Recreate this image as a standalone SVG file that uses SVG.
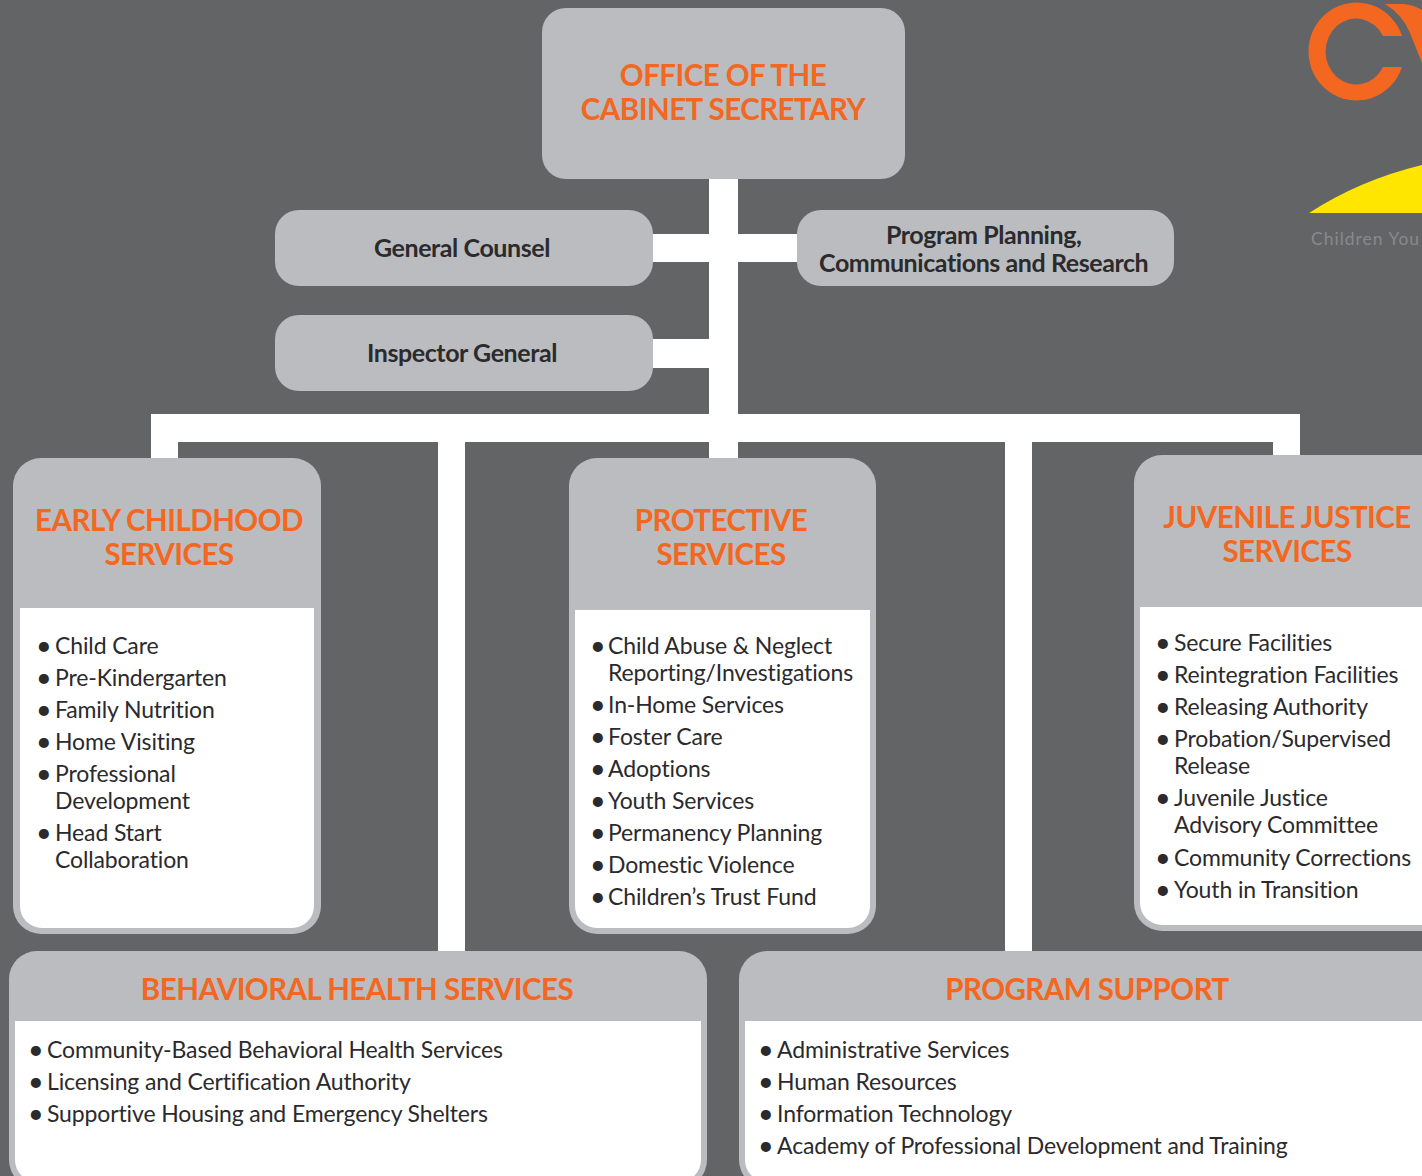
<svg xmlns="http://www.w3.org/2000/svg" width="1422" height="1176" viewBox="0 0 1422 1176">
<style>
text{font-family:Lato,"Open Sans",sans-serif}
.box{fill:#bbbcbf}
.in{fill:#fff}
.t{font-size:29.5px;font-weight:700;fill:#f36721;text-anchor:middle;letter-spacing:-.52px}
.s{font-size:25px;font-weight:700;fill:#2b2a2c;text-anchor:middle;letter-spacing:-.42px}
.b{font-size:23px;fill:#2b2a2c;letter-spacing:-.13px}
.d{font-size:27px;baseline-shift:-1px}
.c{fill:#fff}
</style>
<rect width="1422" height="1176" fill="#636466"/>
<g id="connectors">
<rect class="c" x="709" y="179" width="29" height="280"/>
<rect class="c" x="653" y="234" width="144" height="28"/>
<rect class="c" x="653" y="339" width="56" height="29"/>
<rect class="c" x="151" y="414" width="1149" height="28"/>
<rect class="c" x="151" y="414" width="27" height="45"/>
<rect class="c" x="1273" y="414" width="27" height="45"/>
<rect class="c" x="438" y="414" width="27" height="537"/>
<rect class="c" x="1005" y="414" width="27" height="537"/>
</g>
<g id="office"><rect class="box" x="542" y="8" width="363" height="171" rx="24"/>
<text class="t" x="723" y="86">OFFICE OF THE</text><text class="t" x="723" y="120">CABINET SECRETARY</text></g>
<g id="general-counsel"><rect class="box" x="275" y="210" width="378" height="76" rx="24"/><text class="s" x="462" y="256.500">General Counsel</text></g>
<g id="program-planning"><rect class="box" x="797" y="210" width="377" height="76" rx="24"/><text class="s" x="983.700" y="243.500">Program Planning,</text><text class="s" x="983.700" y="271.500">Communications and Research</text></g>
<g id="inspector-general"><rect class="box" x="275" y="315" width="378" height="76" rx="24"/><text class="s" x="462" y="361.500">Inspector General</text></g>
<g id="early-childhood"><rect class="box" x="13" y="458" width="308" height="476" rx="28"/>
<path class="in" d="M20 608H314V906a22 22 0 0 1-22 22H42a22 22 0 0 1-22-22Z"/>
<text class="t" x="169" y="530.500">EARLY CHILDHOOD</text><text class="t" x="169" y="564.500">SERVICES</text>
<g class="b"><text x="36" y="654"><tspan class="d">•</tspan><tspan x="55">Child Care</tspan></text><text x="36" y="686"><tspan class="d">•</tspan><tspan x="55">Pre-Kindergarten</tspan></text><text x="36" y="718"><tspan class="d">•</tspan><tspan x="55">Family Nutrition</tspan></text><text x="36" y="750"><tspan class="d">•</tspan><tspan x="55">Home Visiting</tspan></text><text x="36" y="782"><tspan class="d">•</tspan><tspan x="55">Professional</tspan></text><text x="55" y="809">Development</text><text x="36" y="841"><tspan class="d">•</tspan><tspan x="55">Head Start</tspan></text><text x="55" y="868">Collaboration</text></g></g>
<g id="protective"><rect class="box" x="569" y="458" width="307" height="476" rx="28"/>
<path class="in" d="M575 610H870V906a22 22 0 0 1-22 22H597a22 22 0 0 1-22-22Z"/>
<text class="t" x="721" y="530.500">PROTECTIVE</text><text class="t" x="721" y="564.500">SERVICES</text>
<g class="b"><text x="590" y="654"><tspan class="d">•</tspan><tspan x="608">Child Abuse &amp; Neglect</tspan></text><text x="608" y="681">Reporting/Investigations</text><text x="590" y="713"><tspan class="d">•</tspan><tspan x="608">In-Home Services</tspan></text><text x="590" y="745"><tspan class="d">•</tspan><tspan x="608">Foster Care</tspan></text><text x="590" y="777"><tspan class="d">•</tspan><tspan x="608">Adoptions</tspan></text><text x="590" y="809"><tspan class="d">•</tspan><tspan x="608">Youth Services</tspan></text><text x="590" y="841"><tspan class="d">•</tspan><tspan x="608">Permanency Planning</tspan></text><text x="590" y="873"><tspan class="d">•</tspan><tspan x="608">Domestic Violence</tspan></text><text x="590" y="905"><tspan class="d">•</tspan><tspan x="608">Children’s Trust Fund</tspan></text></g></g>
<g id="juvenile-justice"><rect class="box" x="1134" y="455" width="320" height="476" rx="28"/>
<path class="in" d="M1140 607H1440V925H1162a22 22 0 0 1-22-22Z"/>
<text class="t" x="1287" y="527.500">JUVENILE JUSTICE</text><text class="t" x="1287" y="561.500">SERVICES</text>
<g class="b"><text x="1155" y="651"><tspan class="d">•</tspan><tspan x="1174">Secure Facilities</tspan></text><text x="1155" y="683"><tspan class="d">•</tspan><tspan x="1174">Reintegration Facilities</tspan></text><text x="1155" y="715"><tspan class="d">•</tspan><tspan x="1174">Releasing Authority</tspan></text><text x="1155" y="747"><tspan class="d">•</tspan><tspan x="1174">Probation/Supervised</tspan></text><text x="1174" y="774">Release</text><text x="1155" y="806"><tspan class="d">•</tspan><tspan x="1174">Juvenile Justice</tspan></text><text x="1174" y="833">Advisory Committee</text><text x="1155" y="866"><tspan class="d">•</tspan><tspan x="1174">Community Corrections</tspan></text><text x="1155" y="898"><tspan class="d">•</tspan><tspan x="1174">Youth in Transition</tspan></text></g></g>
<g id="behavioral-health"><rect class="box" x="9" y="951" width="698" height="237" rx="28"/>
<path class="in" d="M15 1021H701V1160a22 22 0 0 1-22 22H37a22 22 0 0 1-22-22Z"/>
<text class="t" x="357" y="999.500">BEHAVIORAL HEALTH SERVICES</text>
<g class="b"><text x="28" y="1058"><tspan class="d">•</tspan><tspan x="47">Community-Based Behavioral Health Services</tspan></text><text x="28" y="1090"><tspan class="d">•</tspan><tspan x="47">Licensing and Certification Authority</tspan></text><text x="28" y="1122"><tspan class="d">•</tspan><tspan x="47">Supportive Housing and Emergency Shelters</tspan></text></g></g>
<g id="program-support"><rect class="box" x="739" y="951" width="720" height="237" rx="28"/>
<path class="in" d="M745 1021H1440V1182H767a22 22 0 0 1-22-22Z"/>
<text class="t" x="1087" y="999.500">PROGRAM SUPPORT</text>
<g class="b"><text x="758" y="1058"><tspan class="d">•</tspan><tspan x="777">Administrative Services</tspan></text><text x="758" y="1090"><tspan class="d">•</tspan><tspan x="777">Human Resources</tspan></text><text x="758" y="1122"><tspan class="d">•</tspan><tspan x="777">Information Technology</tspan></text><text x="758" y="1154"><tspan class="d">•</tspan><tspan x="777">Academy of Professional Development and Training</tspan></text></g></g>
<g id="logo">
<path fill="#f36721" d="M1402 36A48 49 0 1 0 1402 67H1383A30.500 33 0 1 1 1383 36Z"/>
<path fill="#f36721" d="M1385 4H1404Q1414 5 1422 10V63L1410 33Q1403 15 1385 4Z"/>
<path fill="#ffe600" d="M1309 213Q1360 180 1422 165V213Z"/>
<text x="1311" y="245" font-size="17.500" fill="#88898c" letter-spacing="1">Children You</text>
</g>
</svg>
